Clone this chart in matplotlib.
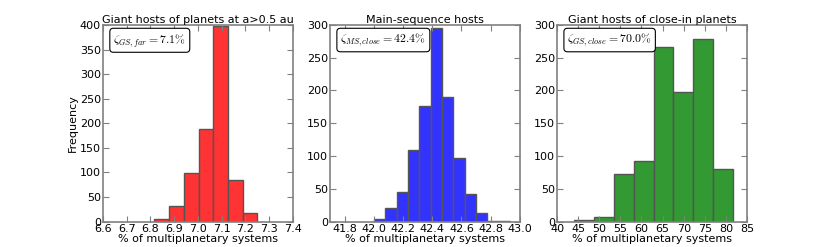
import numpy as np
import matplotlib
matplotlib.use("Agg")
import matplotlib.pyplot as plt

plt.rcParams['mathtext.fontset'] = 'cm'
plt.rcParams['font.family'] = ['DejaVu Sans']

# Panel 1: giant hosts of planets at a>0.5 au
edges1 = [6.817, 6.879, 6.941, 7.003, 7.064, 7.126, 7.188, 7.250]
counts1 = [5, 32, 98, 188, 397, 85, 17]
# Panel 2: main-sequence hosts
edges2 = [42.002, 42.079, 42.157, 42.234, 42.312, 42.389, 42.467, 42.544,
          42.621, 42.699, 42.776, 42.854, 42.931]
counts2 = [4, 20, 45, 109, 176, 296, 190, 97, 42, 13, 1, 1]
# Panel 3: giant hosts of close-in planets
edges3 = [44.04, 48.75, 53.46, 58.17, 62.88, 67.59, 72.30, 77.00, 81.70]
counts3 = [2, 7, 72, 92, 267, 198, 279, 80]

titles = ["Giant hosts of planets at a>0.5 au", "Main-sequence hosts",
          "Giant hosts of close-in planets"]
labels = [r"$\zeta_{GS,far}=7.1\%$", r"$\zeta_{MS,close}=42.4\%$",
          r"$\zeta_{GS,close}=70.0\%$"]
colors = ["#ff3333", "#3333ff", "#339933"]
xlims = [(6.6, 7.4), (41.7, 43.0), (40, 85)]
xticks = [np.round(np.arange(6.6, 7.41, 0.1), 1),
          np.round(np.arange(41.8, 43.01, 0.2), 1),
          np.arange(40, 86, 5)]
ylims = [(0, 400), (0, 300), (0, 300)]

fig = plt.figure(figsize=(8.3, 2.47), dpi=100)
fig.subplots_adjust(left=0.124, right=0.900, bottom=0.103, top=0.899, wspace=0.195)
axes = [fig.add_subplot(1, 3, i + 1) for i in range(3)]

data = [(edges1, counts1), (edges2, counts2), (edges3, counts3)]
for i, ax in enumerate(axes):
    e, c = data[i]
    e = np.array(e)
    ax.bar(e[:-1], c, width=np.diff(e), align='edge', color=colors[i],
           edgecolor='#555555', linewidth=1.0)
    ax.set_xlim(*xlims[i])
    ax.set_ylim(*ylims[i])
    ax.set_xticks(xticks[i])
    if i < 2:
        ax.set_xticklabels([f"{v:.1f}" for v in xticks[i]])
    ax.set_yticks(np.arange(0, ylims[i][1] + 1, 50))
    ax.tick_params(direction='in', top=True, right=True, labelsize=8,
                   length=4, color='#808080', pad=1.5)
    for s in ax.spines.values():
        s.set_color('#808080')
        s.set_linewidth(1.2)
    ax.set_title(titles[i], fontsize=8, pad=1.5)
    ax.set_xlabel("% of multiplanetary systems", fontsize=8, labelpad=0)
    ax.text(0.055, 0.965, labels[i], transform=ax.transAxes, fontsize=8.5,
            va='top', ha='left',
            bbox=dict(boxstyle='round,pad=0.3', facecolor='white',
                      edgecolor='black', linewidth=0.8))
axes[0].set_ylabel("Frequency", fontsize=8, labelpad=1)

fig.savefig("out.png", dpi=100)
